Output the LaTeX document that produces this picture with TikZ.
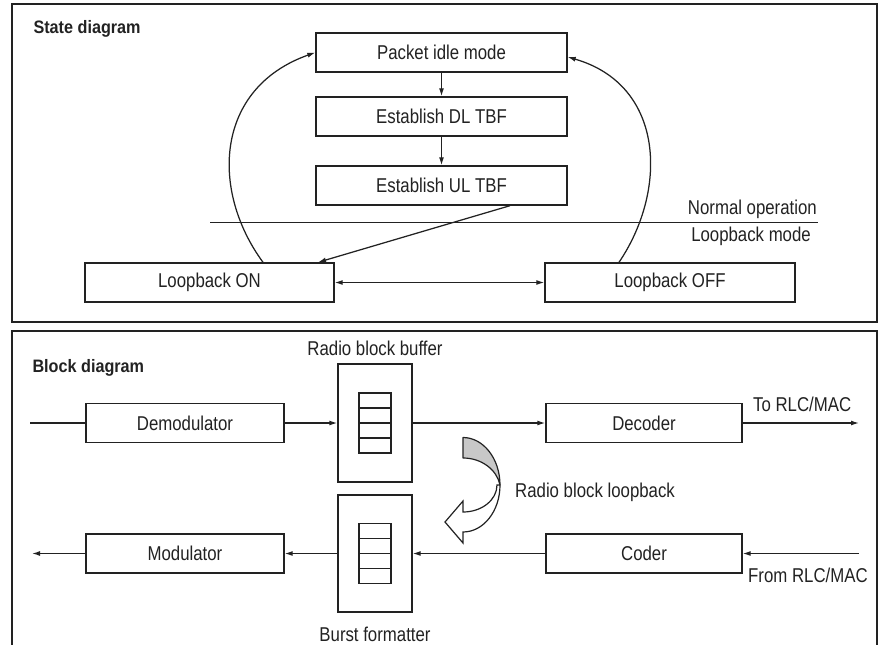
\documentclass[tikz,border=0pt]{standalone}
\usepackage{fontspec}
\setmainfont[FakeStretch=0.84]{Liberation Sans}
\newfontfamily\titlefont[FakeStretch=0.9]{Liberation Sans}
\usetikzlibrary{arrows.meta}
\definecolor{ink}{HTML}{222222}
\definecolor{ribbon}{HTML}{C8C8C8}
\tikzset{
  every node/.style={text=ink, font=\fontsize{20}{24}\selectfont},
  panel/.style={draw=ink, line width=1.7pt},
  box/.style={draw=ink, line width=1.4pt, inner sep=0pt, fill=white},
  cellrow/.style={draw=ink, line width=1.3pt},
  conn/.style={draw=ink, line width=1.25pt},
  arr/.style={conn, -{Latex[length=8pt,width=5pt]}},
  dblarr/.style={conn, {Latex[length=8pt,width=5pt]}-{Latex[length=8pt,width=5pt]}},
  heading/.style={font=\titlefont\bfseries\fontsize{18}{22}\selectfont, anchor=base west},
  label/.style={inner sep=0pt},
}
\begin{document}
\begin{tikzpicture}[x=1pt, y=-1pt]
\useasboundingbox (0,0) rectangle (879,645);

% ---------- panel frames ----------
\draw[panel] (12,4) rectangle (877,322);
\draw[panel] (12,645) -- (12,331) -- (877,331) -- (877,645);

% ---------- state diagram ----------
\node[heading] (sdtitle) at (30,33) {State diagram};

\node[box, minimum width=251pt, minimum height=39pt] (idle) at (441.5,52.5) {Packet idle mode};
\node[box, minimum width=251pt, minimum height=39pt] (dl)   at (441.5,116.5) {Establish DL TBF};
\node[box, minimum width=251pt, minimum height=39pt] (ul)   at (441.5,185.5) {Establish UL TBF};
\node[box, minimum width=249pt, minimum height=39pt] (lbon)  at (209.5,282.5) {Loopback ON};
\node[box, minimum width=250pt, minimum height=39pt] (lboff) at (670,282.5) {Loopback OFF};

\draw[arr] (idle.south) -- (dl.north);
\draw[arr] (dl.south) -- (ul.north);
\draw[arr] ([xshift=68.5pt]ul.south) -- ([xshift=108.5pt]lbon.north);
\draw[dblarr] (lbon.east) -- (lboff.west);

% return paths to idle mode
\draw[arr] ([xshift=53.5pt]lbon.north) .. controls (210,190) and (215,88) .. (idle.west);
\draw[arr] ([xshift=-51pt]lboff.north) .. controls (668,190) and (665,85) .. ([yshift=-4.5pt]idle.east);

% boundary between the two operating regions
\coordinate (sepL) at (210,222.5);
\coordinate (sepR) at (818,222.5);
\draw[conn, line width=1.4pt] (sepL) -- (sepR);
\node[label, anchor=base east] (normal) at (817,214.5) {Normal operation};
\node[label, anchor=base east] (lbmode) at (811,241) {Loopback mode};

% ---------- block diagram ----------
\node[heading] (bdtitle) at (29,372) {Block diagram};

\node[box, minimum width=198pt, minimum height=39pt] (demod) at (185,423) {Demodulator};
\node[box, minimum width=196pt, minimum height=39pt] (decod) at (644,423) {Decoder};
\node[box, minimum width=198pt, minimum height=39pt] (mod)   at (185,553.5) {Modulator};
\node[box, minimum width=196pt, minimum height=39pt] (coder) at (644,553.5) {Coder};

\node[box, minimum width=74pt, minimum height=118pt] (bufA) at (375,423) {};
\node[box, minimum width=74pt, minimum height=117pt] (bufB) at (375,553.5) {};
\foreach \k in {0,1,2,3} {
  \draw[cellrow] (bufA.center) ++(-16,-30+15*\k) rectangle ++(32,15);
  \draw[cellrow] (bufB.center) ++(-16,-30+15*\k) rectangle ++(32,15);
}
\node[label, anchor=base] (bufAlbl) at (375,355) {Radio block buffer};
\node[label, anchor=base] (bufBlbl) at (375,641) {Burst formatter};

\coordinate (inL)  at (30,423);
\coordinate (outR) at (859,423);
\coordinate (inR)  at (859,553.5);
\coordinate (outL) at (32,553.5);

\draw[conn] (inL) -- (demod.west);
\draw[arr] (demod.east) -- (bufA.west);
\draw[arr] (bufA.east) -- (decod.west);
\draw[arr] (decod.east) -- (outR);
\draw[arr] (inR) -- (coder.east);
\draw[arr] (coder.west) -- (bufB.east);
\draw[arr] (bufB.west) -- (mod.east);
\draw[arr] (mod.west) -- (outL);

\node[label, anchor=base west] (torlc)   at (753,411.5) {To RLC/MAC};
\node[label, anchor=base west] (fromrlc) at (748,582) {From RLC/MAC};

% twisted ribbon arrow: back face (grey) on top, front face with head below
\filldraw[fill=ribbon, draw=ink, line width=1.2pt, line join=round]
  (463,437.5) .. controls (483.4,437.5) and (500,458.8) .. (500,485)
  .. controls (497,470) and (481.8,458) .. (463,458) -- cycle;
\filldraw[fill=white, draw=ink, line width=1.2pt, line join=miter]
  (500,485) .. controls (500,511.2) and (483.4,532) .. (463,532)
  -- (463,543) -- (445,522) -- (463,501) -- (463,512)
  .. controls (481.8,512) and (497,499.9) .. (497,485) -- cycle;
\node[label, anchor=base west] (loopback) at (515,497) {Radio block loopback};

\end{tikzpicture}
\end{document}
